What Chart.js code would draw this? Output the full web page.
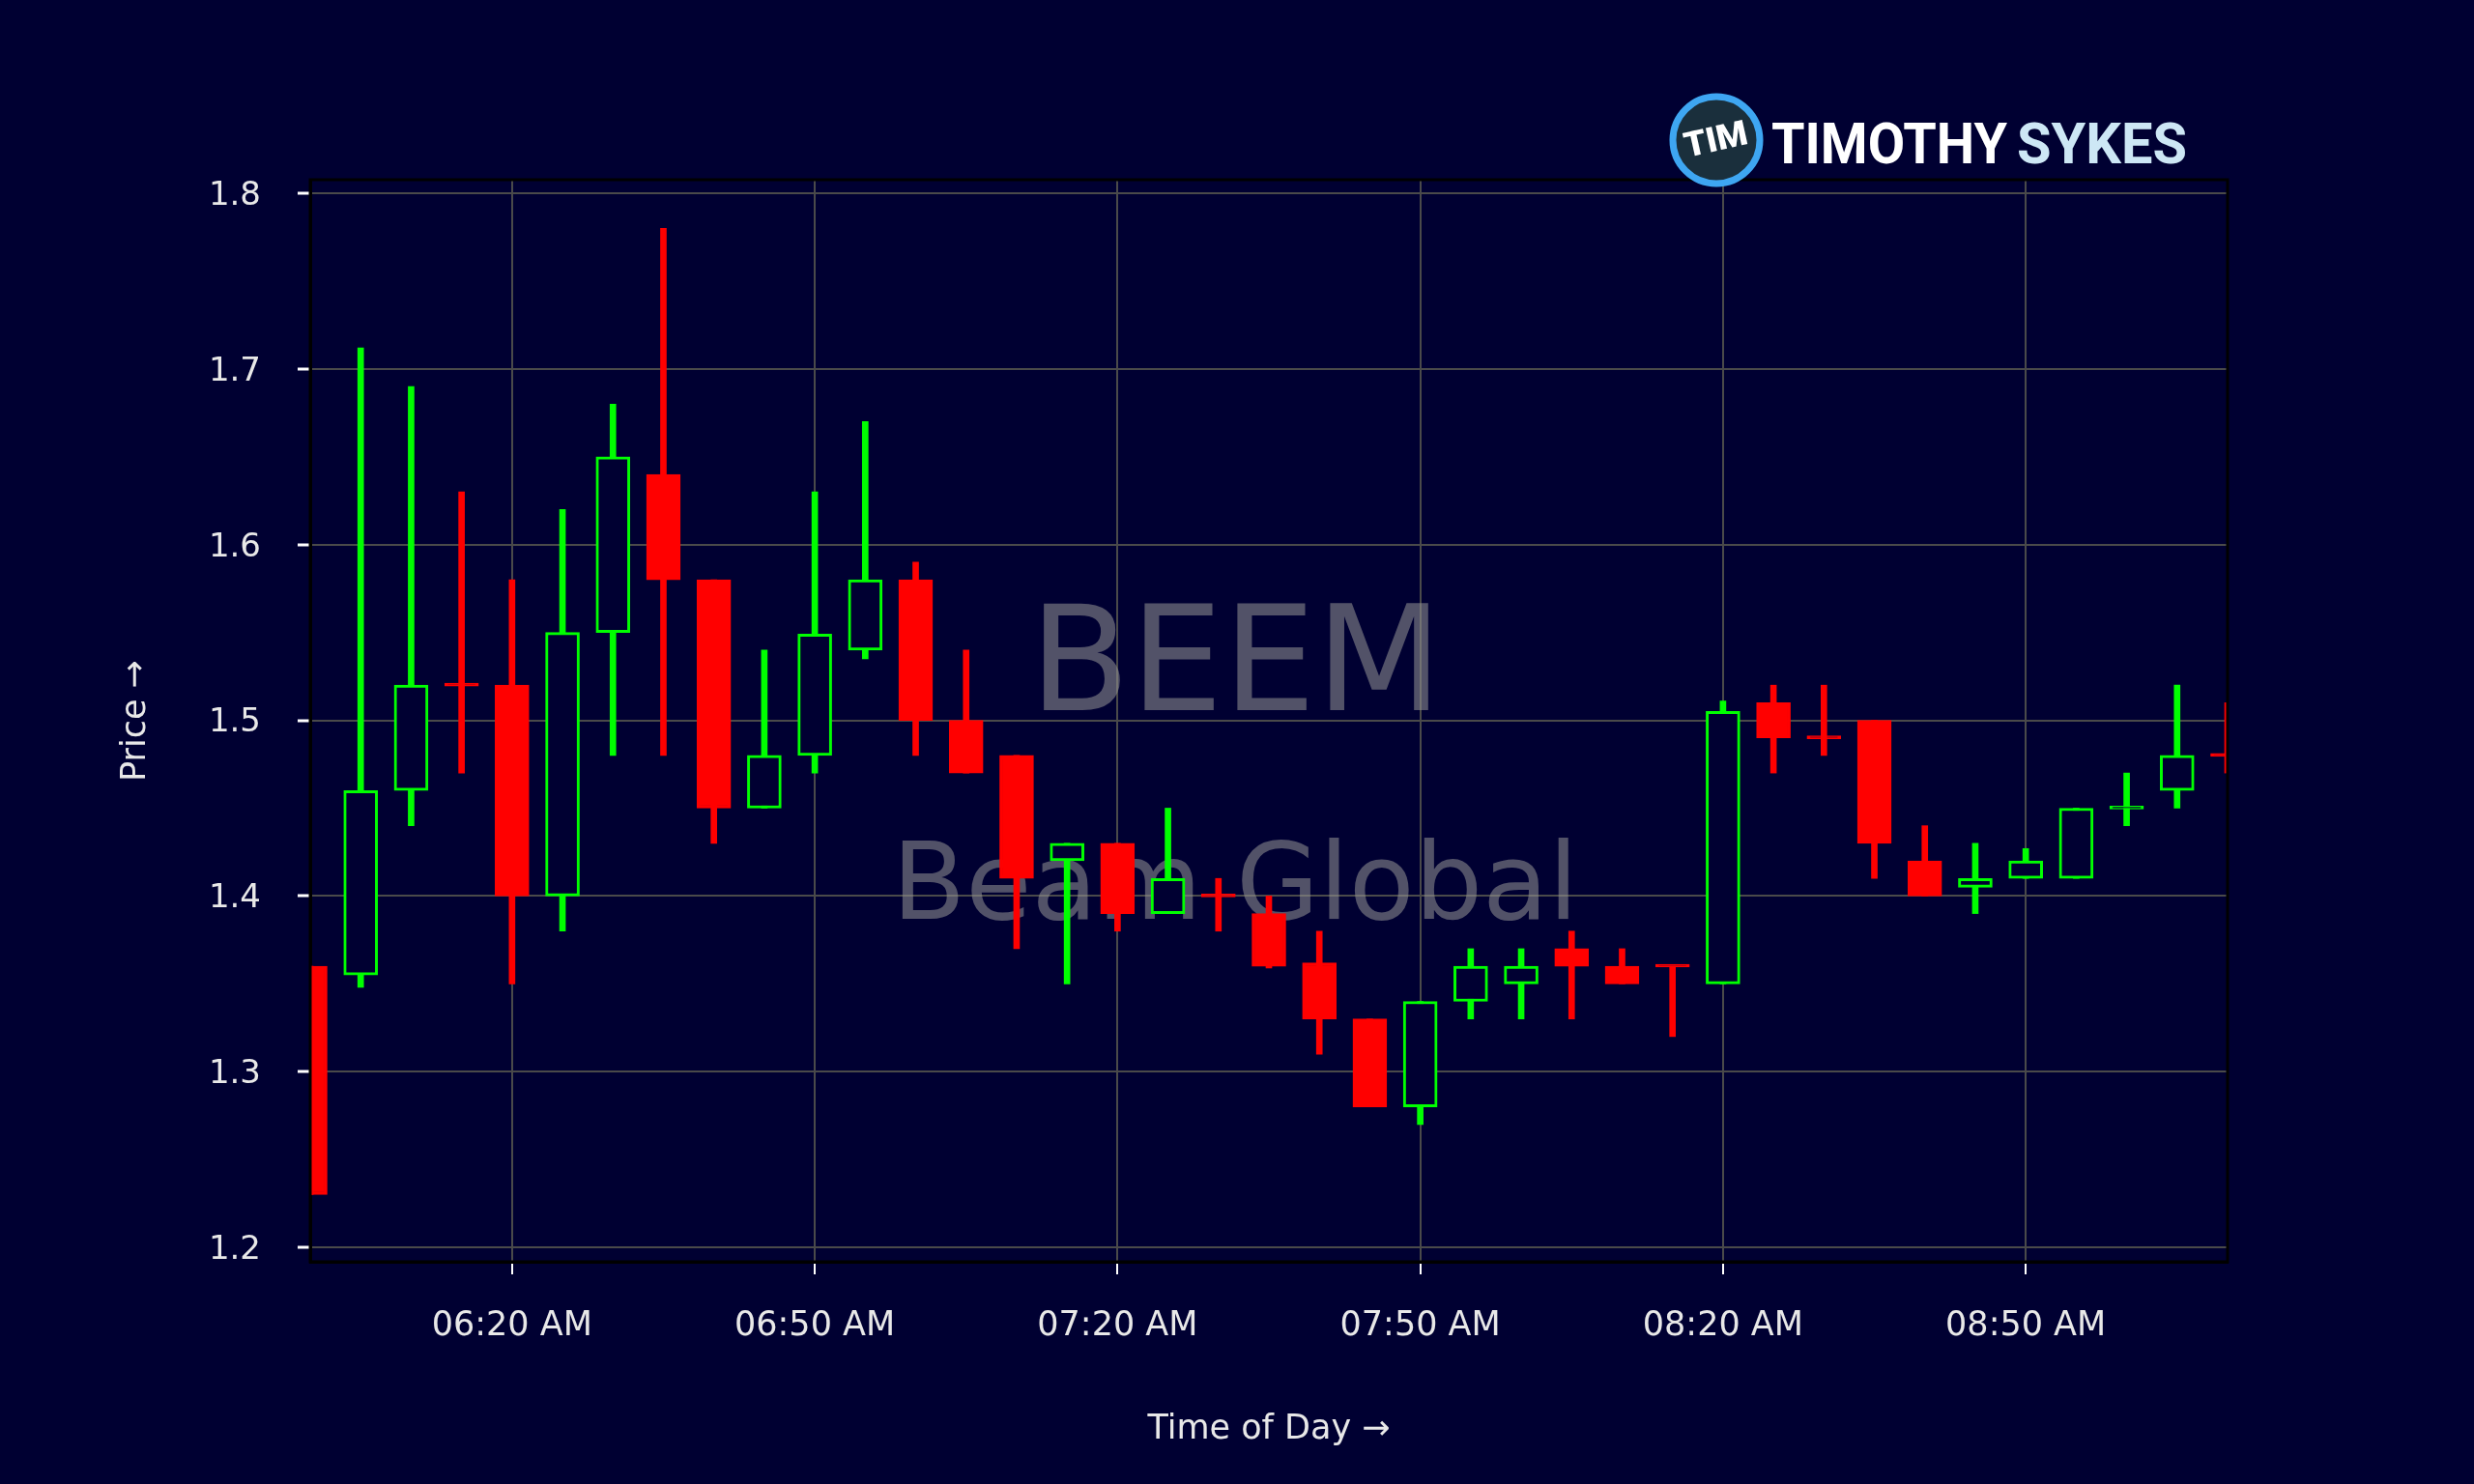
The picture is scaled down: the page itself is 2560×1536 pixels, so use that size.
<!DOCTYPE html>
<html>
<head>
<meta charset="utf-8">
<script src="https://cdn.jsdelivr.net/npm/chart.js@4.4.1/dist/chart.umd.min.js"></script>
<style>
  html, body { margin: 0; padding: 0; background: #000032; }
  canvas { display: block; }
</style>
</head>
<body>
<canvas id="chart" width="2560" height="1536"></canvas>
<script>
// BEEM - bougies 5 minutes
const times = ["06:00","06:05","06:10","06:15","06:20","06:25","06:30","06:35","06:40","06:45",
  "06:50","06:55","07:00","07:05","07:10","07:15","07:20","07:25","07:30","07:35",
  "07:40","07:45","07:50","07:55","08:00","08:05","08:10","08:15","08:20","08:25",
  "08:30","08:35","08:40","08:45","08:50","08:55","09:00","09:05","09:10"];
const opens  = [1.36,1.355,1.46,1.52,1.52,1.40,1.55,1.64,1.58,1.45,
  1.48,1.54,1.58,1.50,1.48,1.42,1.43,1.39,1.40,1.39,
  1.362,1.33,1.28,1.34,1.35,1.37,1.36,1.36,1.35,1.51,
  1.49,1.50,1.42,1.405,1.41,1.41,1.4495,1.46,1.48];
const highs  = [1.36,1.712,1.69,1.63,1.58,1.62,1.68,1.78,1.58,1.54,
  1.63,1.67,1.59,1.54,1.48,1.43,1.43,1.45,1.41,1.40,
  1.38,1.33,1.34,1.37,1.37,1.38,1.37,1.36,1.511,1.52,
  1.52,1.50,1.44,1.43,1.427,1.45,1.47,1.52,1.51];
const lows   = [1.23,1.348,1.44,1.47,1.35,1.38,1.48,1.48,1.43,1.45,
  1.47,1.535,1.48,1.47,1.37,1.35,1.38,1.39,1.38,1.359,
  1.31,1.28,1.27,1.33,1.33,1.33,1.35,1.32,1.35,1.47,
  1.48,1.41,1.40,1.39,1.41,1.41,1.44,1.45,1.47];
const closes = [1.23,1.46,1.52,1.5195,1.40,1.55,1.65,1.58,1.45,1.48,
  1.549,1.58,1.50,1.47,1.41,1.43,1.39,1.41,1.3995,1.36,
  1.33,1.28,1.34,1.36,1.36,1.36,1.35,1.3595,1.505,1.49,
  1.4895,1.43,1.40,1.41,1.42,1.45,1.4505,1.48,1.4795];

const xTickTimes = ["06:20","06:50","07:20","07:50","08:20","08:50"];
const yTickValues = [1.2, 1.3, 1.4, 1.5, 1.6, 1.7, 1.8];

const BG = "#000032";
const UP = "#00ff00";
const DOWN = "#ff0000";
const TXT = "#e8e8e8";
const FONT = "'DejaVu Sans', sans-serif";

function toMin(t) {
  const [h, m] = t.split(":").map(Number);
  return h * 60 + m;
}
function fmtTime(v) {
  const h = Math.floor(v / 60), m = Math.round(v % 60);
  return String(h).padStart(2, "0") + ":" + String(m).padStart(2, "0") + " AM";
}
const isUp = i => closes[i] >= opens[i];

const bodies = times.map((t, i) => ({ x: toMin(t), y: [opens[i], closes[i]] }));
const wicks = times.map((t, i) => ({ x: toMin(t), y: [lows[i], highs[i]] }));

// filigrane + logo
const decor = {
  id: "decor",
  beforeDatasetsDraw(chart) {
    const c = chart.ctx;
    c.save();
    c.fillStyle = "rgba(150,150,150,0.55)";
    c.textAlign = "center";
    c.textBaseline = "alphabetic";
    c.font = "152px " + FONT;
    c.fillText("BEEM", 1279, 735);
    c.font = "111px " + FONT;
    c.fillText("Beam Global", 1278, 951);
    c.restore();
  },
  afterDatasetsDraw(chart) {
    const a = chart.chartArea, c = chart.ctx;
    c.save();
    c.strokeStyle = "#000000";
    c.lineWidth = 3;
    c.strokeRect(a.left, a.top, a.right - a.left, a.bottom - a.top);
    c.restore();
  },
  afterDraw(chart) {
    const c = chart.ctx;
    c.save();
    // rond TIM
    c.beginPath();
    c.arc(1776, 145, 45, 0, Math.PI * 2);
    c.fillStyle = "#1a2f3c";
    c.fill();
    c.lineWidth = 7;
    c.strokeStyle = "#3ea6f2";
    c.stroke();
    c.translate(1776, 147);
    c.rotate(-0.22);
    c.font = "900 36px Roboto, sans-serif";
    c.fillStyle = "#ffffff";
    c.textAlign = "center";
    c.textBaseline = "middle";
    const wT = c.measureText("TIM").width;
    c.scale(66 / wT, 1);
    c.fillText("TIM", 0, 0);
    c.restore();

    c.save();
    c.font = "bold 60px Roboto, sans-serif";
    c.textBaseline = "alphabetic";
    c.textAlign = "left";
    let w = c.measureText("TIMOTHY").width;
    c.save();
    c.translate(1833, 169);
    c.scale(244 / w, 1);
    c.fillStyle = "#ffffff";
    c.fillText("TIMOTHY", 0, 0);
    c.restore();
    w = c.measureText("SYKES").width;
    c.translate(2087, 169);
    c.scale(176 / w, 1);
    c.fillStyle = "#cde7f5";
    c.fillText("SYKES", 0, 0);
    c.restore();
  }
};

new Chart(document.getElementById("chart").getContext("2d"), {
  type: "bar",
  data: {
    datasets: [
      {
        label: "corps",
        data: bodies,
        grouped: false,
        barThickness: 35,
        minBarLength: 3,
        borderWidth: 3,
        borderSkipped: false,
        borderColor: ctx => isUp(ctx.dataIndex) ? UP : DOWN,
        backgroundColor: ctx => isUp(ctx.dataIndex) ? BG : DOWN
      },
      {
        label: "mèches",
        data: wicks,
        grouped: false,
        barThickness: 6,
        borderWidth: 0,
        backgroundColor: ctx => isUp(ctx.dataIndex) ? UP : DOWN
      }
    ]
  },
  options: {
    responsive: false,
    devicePixelRatio: 1,
    animation: false,
    layout: { padding: { left: 0, top: 186, right: 255, bottom: 0 } },
    plugins: { legend: { display: false }, tooltip: { enabled: false } },
    scales: {
      x: {
        type: "linear",
        min: toMin("06:00"),
        max: toMin("09:10"),
        offset: false,
        afterBuildTicks: s => { s.ticks = xTickTimes.map(t => ({ value: toMin(t) })); },
        afterFit: s => { s.height = 230; },
        ticks: {
          color: TXT,
          font: { family: FONT, size: 35 },
          padding: 33,
          maxRotation: 0,
          autoSkip: false,
          callback: v => fmtTime(v)
        },
        grid: {
          color: "#4a4a4a",
          lineWidth: 2,
          offset: false,
          tickColor: "#ffffff",
          tickLength: 13,
          tickWidth: 2
        },
        border: { color: "#000000", width: 3 },
        title: {
          display: true,
          text: "Time of Day →",
          color: TXT,
          font: { family: FONT, size: 35 },
          padding: { top: 0, bottom: 35 }
        }
      },
      y: {
        min: 1.1918,
        max: 1.8077,
        afterBuildTicks: s => { s.ticks = yTickValues.map(v => ({ value: v })); },
        afterFit: s => { s.width = 321; },
        ticks: {
          color: TXT,
          font: { family: FONT, size: 34 },
          padding: 38,
          labelOffset: 3,
          callback: v => v.toFixed(1)
        },
        grid: {
          color: "#4a4a4a",
          lineWidth: 2,
          tickColor: "#ffffff",
          tickLength: 13,
          tickWidth: 3
        },
        border: { color: "#000000", width: 3 },
        title: {
          display: true,
          text: "Price →",
          color: TXT,
          font: { family: FONT, size: 35 },
          padding: { top: 120, bottom: 0 }
        }
      }
    }
  },
  plugins: [decor]
});
</script>
</body>
</html>
